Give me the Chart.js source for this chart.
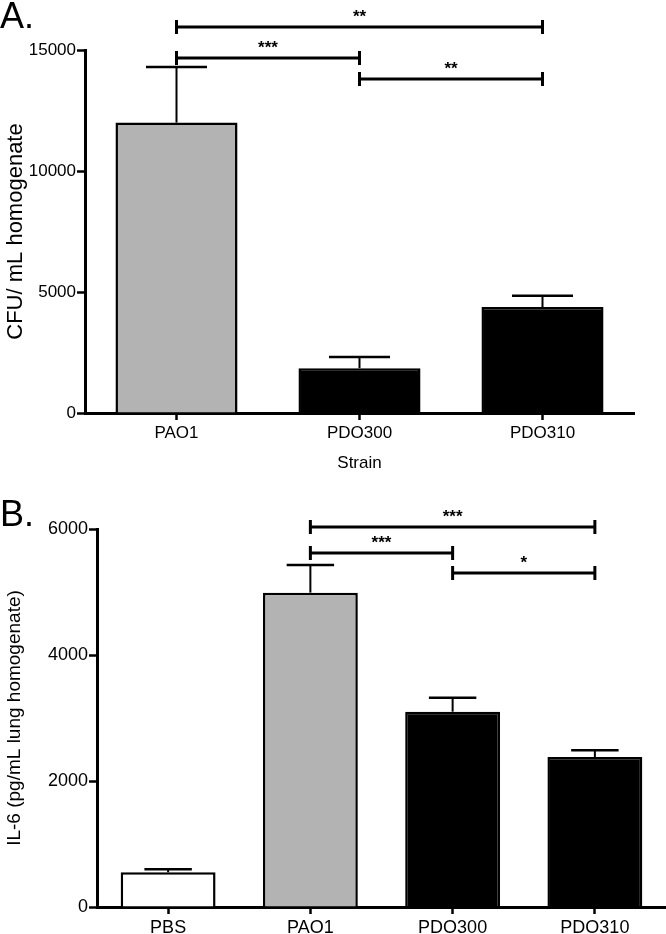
<!DOCTYPE html>
<html>
<head>
<meta charset="utf-8">
<script src="https://cdn.jsdelivr.net/npm/chart.js@4/dist/chart.umd.min.js"></script>
<style>
  body { margin: 0; background: #fff; }
  #wrap { position: relative; width: 666px; height: 934px; overflow: hidden; }
  canvas { position: absolute; left: 0; }
  .panel { position: absolute; left: 0; font-family: "Liberation Sans", Arial, sans-serif; font-size: 36px; color: #000; }
</style>
</head>
<body>
<div id="wrap">
  <canvas id="chartA" width="666" height="480" style="top:0"></canvas>
  <canvas id="chartB" width="666" height="454" style="top:480px"></canvas>
  <div class="panel" style="top:-5px">A.</div>
  <div class="panel" style="top:493px">B.</div>
</div>
<script>
// panel A - bacterial load
const strainsA = ['PAO1', 'PDO300', 'PDO310'];
const cfuMean = [12000, 1850, 4380];
const cfuSem = [2300, 460, 460];
const ticksA = [0, 5000, 10000, 15000];
const sigPairsA = [[0, 2], [0, 1], [1, 2]];
const sigLabelsA = ['**', '***', '**'];
const sigLevelsA = [15950, 14670, 13800];

// panel B - IL-6
const groupsB = ['PBS', 'PAO1', 'PDO300', 'PDO310'];
const il6Mean = [550, 4990, 3100, 2380];
const il6Sem = [50, 440, 220, 110];
const ticksB = [0, 2000, 4000, 6000];
const sigPairsB = [[1, 3], [1, 2], [2, 3]];
const sigLabelsB = ['***', '***', '*'];
const sigLevelsB = [6030, 5620, 5300];

const FONT = '"Liberation Sans", Arial, sans-serif';
const GRAY = '#b3b3b3';

// draws the SEM whiskers (upward only) and the significance brackets
const extrasPlugin = {
  id: 'extras',
  afterDatasetsDraw(chart, args, opts) {
    const ctx = chart.ctx;
    const x = chart.scales.x, y = chart.scales.y;
    const meta = chart.getDatasetMeta(0);
    ctx.save();
    ctx.strokeStyle = '#000';
    meta.data.forEach((bar, i) => {
      const cx = bar.x;
      const top = y.getPixelForValue(opts.mean[i]);
      const cap = y.getPixelForValue(opts.mean[i] + opts.sem[i]);
      const half = bar.width / 4;
      ctx.lineWidth = 2;
      ctx.beginPath();
      ctx.moveTo(cx, top);
      ctx.lineTo(cx, cap);
      ctx.stroke();
      ctx.lineWidth = 2.5;
      ctx.beginPath();
      ctx.moveTo(cx - half, cap);
      ctx.lineTo(cx + half, cap);
      ctx.stroke();
    });
    opts.pairs.forEach((p, k) => {
      const x1 = x.getPixelForValue(p[0]);
      const x2 = x.getPixelForValue(p[1]);
      const yy = y.getPixelForValue(opts.levels[k]);
      ctx.lineWidth = 3;
      ctx.beginPath();
      ctx.moveTo(x1, yy);
      ctx.lineTo(x2, yy);
      ctx.moveTo(x1, yy - 7);
      ctx.lineTo(x1, yy + 7);
      ctx.moveTo(x2, yy - 7);
      ctx.lineTo(x2, yy + 7);
      ctx.stroke();
      ctx.fillStyle = '#000';
      ctx.font = 'bold 17px ' + FONT;
      ctx.textAlign = 'center';
      ctx.textBaseline = 'middle';
      ctx.fillText(opts.labels[k], (x1 + x2) / 2, yy - 10);
    });
    ctx.restore();
  }
};

function makeChart(id, labels, mean, sem, colors, tickVals, yTitle, xTitle, geom, sig) {
  return new Chart(document.getElementById(id), {
    type: 'bar',
    data: {
      labels: labels,
      datasets: [{
        data: mean,
        backgroundColor: colors,
        borderColor: '#000',
        borderWidth: 2.5,
        borderSkipped: 'start',
        categoryPercentage: 1,
        barPercentage: 0.667
      }]
    },
    options: {
      responsive: false,
      animation: false,
      devicePixelRatio: 1,
      layout: { padding: { top: geom.top, right: geom.right, left: 0, bottom: 0 } },
      plugins: {
        legend: { display: false },
        tooltip: { enabled: false },
        extras: { mean: mean, sem: sem, pairs: sig.pairs, labels: sig.labels, levels: sig.levels }
      },
      scales: {
        x: {
          offset: true,
          grid: { offset: false, drawOnChartArea: false, drawTicks: true, tickLength: 7, tickWidth: 2.5, tickColor: '#000' },
          border: { color: '#000', width: 3 },
          ticks: { color: '#000', font: { family: FONT, size: geom.fs }, padding: 3 },
          title: { display: !!xTitle, text: xTitle, color: '#000', font: { family: FONT, size: geom.fs }, padding: { top: 0, bottom: 6 } },
          afterFit(s) { s.height = geom.xh; }
        },
        y: {
          min: 0,
          max: tickVals[tickVals.length - 1],
          afterBuildTicks(s) { s.ticks = tickVals.map(v => ({ value: v })); },
          grid: { drawOnChartArea: false, drawTicks: true, tickLength: 8, tickWidth: 2.5, tickColor: '#000' },
          border: { color: '#000', width: 3 },
          ticks: { color: '#000', font: { family: FONT, size: geom.fs }, padding: 1, callback: v => String(v) },
          title: { display: true, text: yTitle, color: '#000', font: { family: FONT, size: geom.tfs }, padding: { top: 3, bottom: 0 } },
          afterFit(s) { s.width = geom.yw; }
        }
      }
    },
    plugins: [extrasPlugin]
  });
}

makeChart('chartA', strainsA, cfuMean, cfuSem, [GRAY, '#000', '#000'], ticksA,
  'CFU/ mL homogenate', 'Strain',
  { top: 50, right: 32, yw: 85, xh: 67, fs: 17, tfs: 22 },
  { pairs: sigPairsA, labels: sigLabelsA, levels: sigLevelsA });

makeChart('chartB', groupsB, il6Mean, il6Sem, ['#fff', GRAY, '#000', '#000'], ticksB,
  'IL-6 (pg/mL lung homogenate)', '',
  { top: 49, right: 0, yw: 97, xh: 27, fs: 18, tfs: 19 },
  { pairs: sigPairsB, labels: sigLabelsB, levels: sigLevelsB });
</script>
</body>
</html>
